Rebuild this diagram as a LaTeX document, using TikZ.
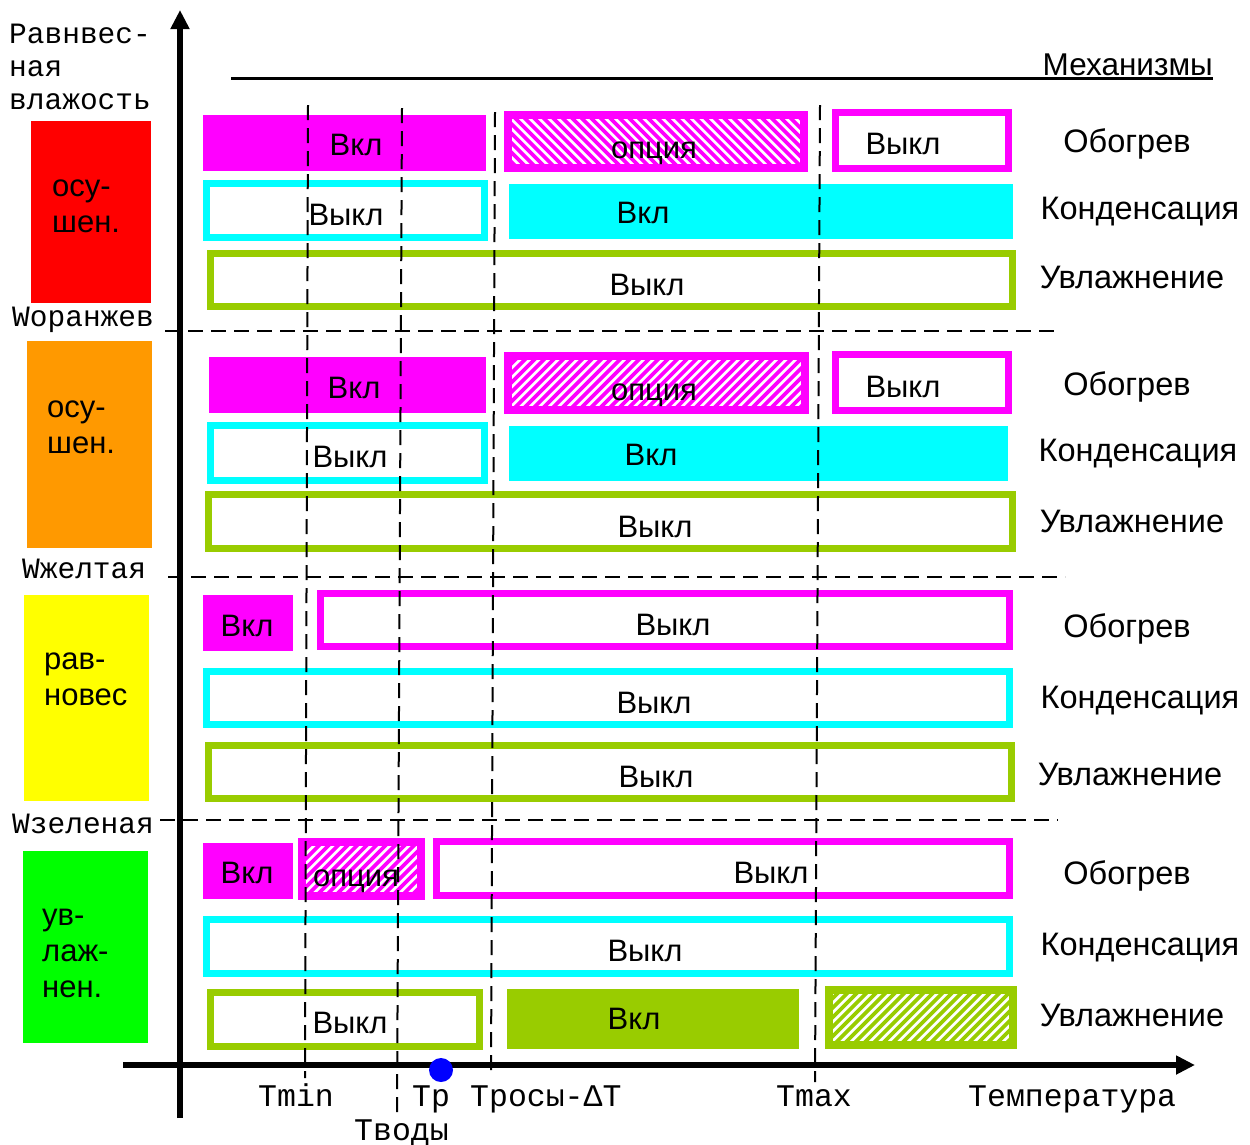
\documentclass[tikz,border=0pt]{standalone}
\usepackage{fontspec}
\setmainfont{Liberation Sans}
\newfontfamily\monofont{Liberation Mono}
\usetikzlibrary{arrows.meta}
\definecolor{mag}{HTML}{FF00FF}
\definecolor{cyn}{HTML}{00FFFF}
\definecolor{lgr}{HTML}{99CC00}
\definecolor{zred}{HTML}{FF0000}
\definecolor{zora}{HTML}{FF9900}
\definecolor{zyel}{HTML}{FFFF00}
\definecolor{zgre}{HTML}{00FF00}
\definecolor{dotblue}{HTML}{0000FF}
\tikzset{
  box/.style={rectangle, inner sep=0pt, outer sep=0pt},
  onbox/.style={box, fill=#1, draw=none},
  offbox/.style={box, draw=#1, fill=white, line width=7pt},
  optNE/.style={box, draw=#1, fill=white, line width=8pt,
    path picture={\foreach \k in {-100,-90.5,...,330}{
      \draw[#1, line width=3.6pt] ([xshift=\k pt]path picture bounding box.south west) -- ++(100pt,100pt);}}},
  optNW/.style={box, draw=#1, fill=white, line width=8pt,
    path picture={\foreach \k in {0,9.5,...,430}{
      \draw[#1, line width=3.6pt] ([xshift=\k pt]path picture bounding box.south west) -- ++(-100pt,100pt);}}},
  lbl/.style={font=\fontsize{31}{37}\selectfont, inner sep=0pt, text height=22pt, text depth=0pt},
  mech/.style={lbl, font=\fontsize{32.5}{37}\selectfont, text height=23pt},
  zlbl/.style={font=\fontsize{31}{36}\selectfont, inner sep=0pt, align=left, anchor=base west},
  mlbl/.style={font=\monofont\fontsize{29.5}{33}\selectfont, inner sep=0pt, align=left, anchor=base west},
  blbl/.style={font=\monofont\fontsize{31.5}{34}\selectfont, inner sep=0pt, anchor=base west},
  dashv/.style={line width=2pt, dash pattern=on 15pt off 8pt},
  axis/.style={line width=5.5pt, -{Triangle[length=19pt,width=18pt]}},
}
\newcommand\bx[7]{\node[#2, minimum width={#5pt-#3pt-#7pt}, minimum height={#6pt-#4pt-#7pt}] (#1) at ({(#3+#5)/2},{(#4+#6)/2}) {};}
\begin{document}
\begin{tikzpicture}[x=1pt,y=-1pt]
\useasboundingbox[fill=white] (0,0) rectangle (1250,1144);
% zone boxes
\bx{zr}{onbox=zred}{31}{121}{151}{303}{0}
\bx{zo}{onbox=zora}{27}{341}{152}{548}{0}
\bx{zy}{onbox=zyel}{24}{595}{149}{801}{0}
\bx{zg}{onbox=zgre}{23}{851}{148}{1043}{0}
% row 1
\bx{h1on}{onbox=mag}{203}{115}{486}{171}{0}
\bx{h1opt}{optNW=mag}{504}{111}{808}{172}{8}
\bx{h1off}{offbox=mag}{832}{109}{1012}{172}{7}
\bx{c1off}{offbox=cyn}{203}{180}{488}{241}{7}
\bx{c1on}{onbox=cyn}{509}{184}{1013}{239}{0}
\bx{u1off}{offbox=lgr}{207}{250}{1016}{310}{7}
% row 2
\bx{h2on}{onbox=mag}{209}{357}{486}{413}{0}
\bx{h2opt}{optNE=mag}{504}{352}{809}{414}{8}
\bx{h2off}{offbox=mag}{832}{351}{1012}{414}{7}
\bx{c2off}{offbox=cyn}{207}{422}{488}{484}{7}
\bx{c2on}{onbox=cyn}{509}{426}{1008}{481}{0}
\bx{u2off}{offbox=lgr}{205}{491}{1016}{552}{7}
% row 3
\bx{h3on}{onbox=mag}{203}{595}{293}{651}{0}
\bx{h3off}{offbox=mag}{317}{590}{1013}{650}{7}
\bx{c3off}{offbox=cyn}{203}{668}{1013}{728}{7}
\bx{u3off}{offbox=lgr}{205}{742}{1015}{802}{7}
% row 4
\bx{h4on}{onbox=mag}{203}{843}{293}{899}{0}
\bx{h4opt}{optNE=mag}{298}{838}{425}{900}{8}
\bx{h4off}{offbox=mag}{433}{838}{1013}{899}{7}
\bx{c4off}{offbox=cyn}{203}{916}{1013}{977}{7}
\bx{u4off}{offbox=lgr}{207}{989}{483}{1050}{7}
\bx{u4on}{onbox=lgr}{507}{989}{799}{1049}{0}
\bx{u4opt}{optNE=lgr}{825}{986}{1017}{1049}{8}
% dashed grid
\coordinate (tmin-t) at (308,105); \coordinate (tmin-b) at (305,1078);
\coordinate (tv-t) at (402,108); \coordinate (tv-b) at (397,1112);
\coordinate (tr-t) at (495,112); \coordinate (tr-b) at (491,1075);
\coordinate (tmax-t) at (820,105); \coordinate (tmax-b) at (815,1082);
\draw[dashv] (tmin-t) -- (tmin-b);
\draw[dashv] (tv-t) -- (tv-b);
\draw[dashv] (tr-t) -- (tr-b);
\draw[dashv] (tmax-t) -- (tmax-b);
\coordinate (wo-l) at (165,331); \coordinate (wo-r) at (1060,331);
\coordinate (wy-l) at (168,577); \coordinate (wy-r) at (1065,577);
\coordinate (wg-l) at (160,820); \coordinate (wg-r) at (1058,820);
\draw[dashv] (wo-l) -- (wo-r);
\draw[dashv] (wy-l) -- (wy-r);
\draw[dashv] (wg-l) -- (wg-r);
% box texts
\node[lbl] (t-h1on) at (356,144) {Вкл};
\node[lbl] (t-h1opt) at (654,147) {опция};
\node[lbl] (t-h1off) at (903,143) {Выкл};
\node[lbl] (t-c1off) at (346,214) {Выкл};
\node[lbl] (t-c1on) at (643,212) {Вкл};
\node[lbl] (t-u1off) at (647,284) {Выкл};
\node[lbl] (t-h2on) at (354,387) {Вкл};
\node[lbl] (t-h2opt) at (654,389) {опция};
\node[lbl] (t-h2off) at (903,386) {Выкл};
\node[lbl] (t-c2off) at (350,456) {Выкл};
\node[lbl] (t-c2on) at (651,454) {Вкл};
\node[lbl] (t-u2off) at (655,526) {Выкл};
\node[lbl] (t-h3on) at (247,625) {Вкл};
\node[lbl] (t-h3off) at (673,624) {Выкл};
\node[lbl] (t-c3off) at (654,702) {Выкл};
\node[lbl] (t-u3off) at (656,776) {Выкл};
\node[lbl] (t-h4on) at (247,872) {Вкл};
\node[lbl] (t-h4opt) at (356,875) {опция};
\node[lbl] (t-h4off) at (771,872) {Выкл};
\node[lbl] (t-c4off) at (645,950) {Выкл};
\node[lbl] (t-u4off) at (350,1022) {Выкл};
\node[lbl] (t-u4on) at (634,1018) {Вкл};
% mechanism labels
\node[mech] (m1a) at (1127,141) {Обогрев};
\node[mech] (m1b) at (1140,208) {Конденсация};
\node[mech] (m1c) at (1132,277) {Увлажнение};
\node[mech] (m2a) at (1127,384) {Обогрев};
\node[mech] (m2b) at (1138,450) {Конденсация};
\node[mech] (m2c) at (1132,521) {Увлажнение};
\node[mech] (m3a) at (1127,626) {Обогрев};
\node[mech] (m3b) at (1140,697) {Конденсация};
\node[mech] (m3c) at (1130,774) {Увлажнение};
\node[mech] (m4a) at (1127,873) {Обогрев};
\node[mech] (m4b) at (1140,944) {Конденсация};
\node[mech] (m4c) at (1132,1015) {Увлажнение};
% header
\coordinate (hl) at (231,78); \coordinate (hr) at (1213,78);
\draw[line width=3pt] (hl) -- (hr);
\node[lbl, font=\fontsize{31.5}{37}\selectfont, anchor=base east, text height=, text depth=] (mechtitle) at (1213,75) {Механизмы};
% zone labels (anchor = baseline of last line)
\node[zlbl] (zr-t) at (52,232) {осу-\\шен.};
\node[zlbl] (zo-t) at (47,453) {осу-\\шен.};
\node[zlbl] (zy-t) at (44,705) {рав-\\новес};
\node[zlbl] (zg-t) at (42,997) {ув-\\лаж-\\нен.};
% left mono labels
\node[mlbl] (ylab) at (9,109) {Равнвес-\\ная\\влажость};
\node[mlbl] (wo) at (12,326) {Wоранжев};
\node[mlbl] (wy) at (22,578) {Wжелтая};
\node[mlbl] (wg) at (12,833) {Wзеленая};
% axes
\coordinate (ya-b) at (180,1118); \coordinate (ya-t) at (180,10);
\coordinate (xa-l) at (123,1065); \coordinate (xa-r) at (1195,1065);
\draw[axis] (ya-b) -- (ya-t);
\draw[axis] (xa-l) -- (xa-r);
\node[circle, fill=dotblue, inner sep=0pt, minimum size=24pt] (tp-dot) at (441,1070) {};
% bottom labels
\node[blbl] (l-tmin) at (258,1106) {Tmin};
\node[blbl] (l-tp) at (412,1106) {Tр};
\node[blbl] (l-tr) at (470,1106) {Tросы-ΔT};
\node[blbl] (l-tv) at (354,1140) {Tводы};
\node[blbl] (l-tmax) at (776,1106) {Tmax};
\node[blbl] (l-temp) at (968,1106) {Температура};
\end{tikzpicture}
\end{document}
